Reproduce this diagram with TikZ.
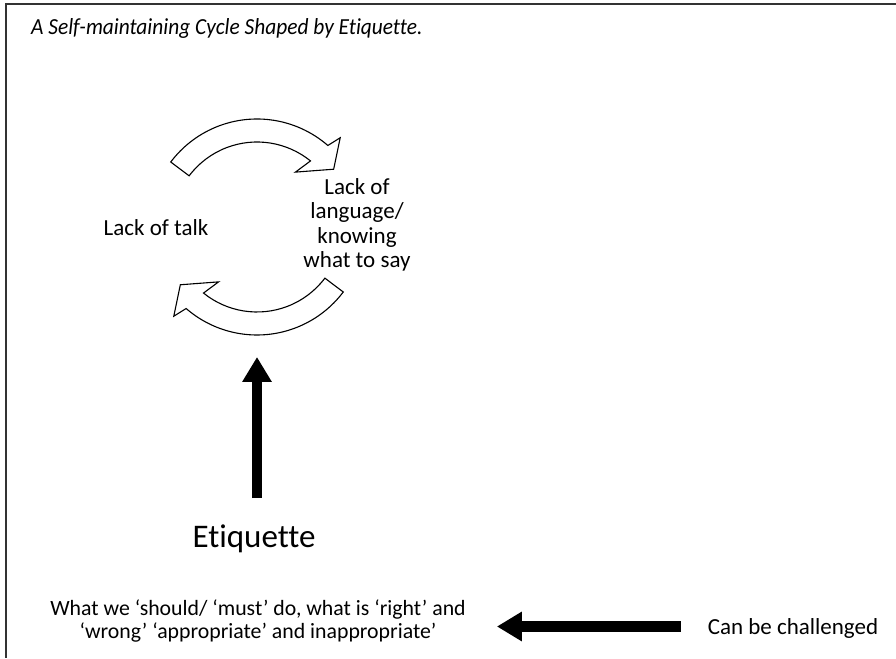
\documentclass[tikz,border=0pt]{standalone}
\usepackage{fontspec}
\setmainfont{Carlito}[Ligatures=NoCommon]
\newfontfamily\titlefont{Carlito}[Ligatures=NoCommon,FakeStretch=0.93]
\usetikzlibrary{arrows.meta,positioning}

\begin{document}
\begin{tikzpicture}[x=1pt,y=1pt,node distance=201pt,
	label node/.style={font=\fontsize{23}{24.5}\selectfont,align=center,inner sep=0pt},
	note node/.style={font=\fontsize{21.8}{22.8}\selectfont,align=center,inner sep=0pt},
	cycle arrow/.style={draw=black,fill=white,line width=1.1pt,line join=miter},
	fat arrow/.style={line width=10.5pt,-{Triangle[length=25pt,width=28pt]}}]
		\useasboundingbox (0,0) rectangle (896,658);
		\draw[line width=1.8pt,black!80] (896,654) -- (6,654) -- (6,0);
		\node[anchor=base west,inner sep=0pt,font=\titlefont\fontsize{23}{26}\selectfont\itshape] (title) at (31,623) {A Self-maintaining Cycle Shaped by Etiquette.};
		% the cycle
		\coordinate (c) at (257,431);
		\foreach \r in {0,180}
		\draw[cycle arrow] ([shift={(c)}]143+\r:108) arc[start angle=143+\r,end angle=49+\r,radius=108]
		-- ([shift={(c)}]47+\r:122) -- ([shift={(c)}]37+\r:96) -- ([shift={(c)}]55+\r:67)
		-- ([shift={(c)}]51+\r:85) arc[start angle=51+\r,end angle=143+\r,radius=85] -- cycle;
		\node[label node] (talk) at (156,430) {Lack of talk};
		\node[label node] (lang) [right of=talk,yshift=3pt] {Lack of\\language/\\knowing\\what to say};
		% etiquette
		\node[anchor=base,inner sep=0pt,font=\fontsize{33}{36}\selectfont] (etiq) at (254,110) {Etiquette};
		\coordinate (cyc) at (257,301);
		\draw[fat arrow,shorten <=27pt] (etiq.north -| cyc) -- (cyc);
		\node[note node] (what) at (258,37) {What we ‘should/ ‘must’ do, what is ‘right’ and\\‘wrong’ ‘appropriate’ and inappropriate’};
		\node[label node] (chal) at (793,30) {Can be challenged};
		\draw[fat arrow,shorten <=27pt,shorten >=31pt] ([yshift=1.5pt]chal.west) -- ([yshift=1.5pt]chal.west -| what.east);
		\end{tikzpicture}
\end{document}
